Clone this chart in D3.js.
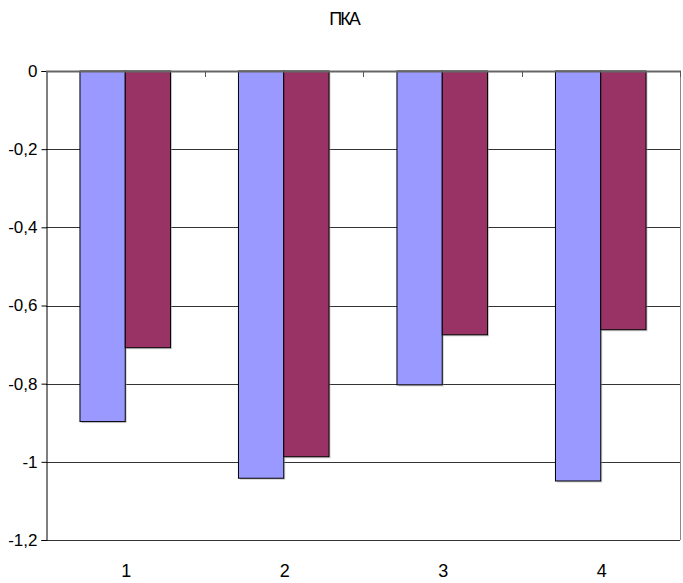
<!DOCTYPE html>
<html>
<head>
<meta charset="utf-8">
<script src="https://cdn.jsdelivr.net/npm/d3@7/dist/d3.min.js"></script>
<style>
  html, body { margin: 0; padding: 0; background: #fff; }
  svg { display: block; font-family: "Liberation Sans", Arial, sans-serif; }
</style>
</head>
<body>
<svg id="chart" width="683" height="583"></svg>
<script>
// Chart data
const title = "ПКА";
const categories = ["1", "2", "3", "4"];
const seriesA = [-0.897, -1.042, -0.803, -1.049];
const seriesB = [-0.708, -0.987, -0.675, -0.662];
const yTicks = [0, -0.2, -0.4, -0.6, -0.8, -1, -1.2];

const colors = ["#9999ff", "#993366"];

const svg = d3.select("#chart");
const plot = { left: 46, right: 680, top: 71, bottom: 540 };

const x = d3.scaleBand().domain(categories).range([plot.left, plot.right]).paddingInner(0).paddingOuter(0);
const y = d3.scaleLinear().domain([-1.2, 0]).range([plot.bottom, plot.top]);

// bar layout inside each category (gap width 150%)
const barW = x.bandwidth() / 3.5;
const gapHalf = x.bandwidth() * 0.75 / 3.5;
const sub = d3.scaleBand().domain([0, 1]).range([gapHalf, gapHalf + 2 * barW]);

const fmt = v => (v === 0 ? "0" : d3.format(".1~f")(v).replace(".", ",").replace("−", "-"));

// title
svg.append("text")
  .attr("x", 344).attr("y", 25)
  .attr("text-anchor", "middle")
  .attr("font-size", 18)
  .attr("letter-spacing", -2)
  .text(title);

// horizontal gridlines
svg.append("g")
  .selectAll("line")
  .data(yTicks.filter(d => d !== 0))
  .join("line")
  .attr("x1", plot.left).attr("x2", plot.right)
  .attr("y1", d => Math.round(y(d)) + 0.5).attr("y2", d => Math.round(y(d)) + 0.5)
  .attr("stroke", "#333").attr("stroke-width", 1);

// right border
svg.append("line")
  .attr("x1", plot.right + 0.5).attr("x2", plot.right + 0.5)
  .attr("y1", plot.top).attr("y2", plot.bottom)
  .attr("stroke", "#888");

// y axis
const yAxis = d3.axisLeft(y).tickValues(yTicks).tickSize(5).tickPadding(4).tickFormat(fmt);
const gy = svg.append("g")
  .attr("transform", `translate(${plot.left + 0.5},0)`)
  .call(yAxis);
gy.select(".domain").attr("stroke", "#000");
gy.selectAll(".tick line").attr("stroke", "#000");
gy.selectAll(".tick text")
  .attr("font-size", 17)
  .attr("fill", "#000")
  .attr("font-family", "Liberation Sans, Arial, sans-serif");

// bars, with a faint drop shadow
const groups = svg.append("g")
  .selectAll("g")
  .data(categories)
  .join("g")
  .attr("transform", d => `translate(${x(d)},0)`);

[seriesA, seriesB].forEach((series, si) => {
  groups.append("rect")
    .attr("x", (d, i) => sub(si) + 1.5)
    .attr("y", y(0) + 1.5)
    .attr("width", barW)
    .attr("height", (d, i) => y(series[i]) - y(0))
    .attr("fill", "#a0a0a0")
    .attr("opacity", 0.5);
});
[seriesA, seriesB].forEach((series, si) => {
  groups.append("rect")
    .attr("x", (d, i) => sub(si))
    .attr("y", y(0))
    .attr("width", barW)
    .attr("height", (d, i) => y(series[i]) - y(0))
    .attr("fill", colors[si])
    .attr("stroke", "#000")
    .attr("stroke-width", 1);
});

// category axis along zero line
const gx = svg.append("g")
  .attr("transform", `translate(0,${y(0)})`);
gx.append("line")
  .attr("x1", plot.left).attr("x2", plot.right + 1)
  .attr("y1", 0.5).attr("y2", 0.5)
  .attr("stroke", "#666").attr("stroke-width", 2);
// category boundary ticks
gx.selectAll("line.tick")
  .data(categories.slice(1).map(c => x(c)).concat([plot.right]))
  .join("line")
  .attr("class", "tick")
  .attr("x1", d => Math.round(d) + 0.5).attr("x2", d => Math.round(d) + 0.5)
  .attr("y1", 0).attr("y2", 6)
  .attr("stroke", "#555");

// category labels at the bottom
svg.append("g")
  .selectAll("text")
  .data(categories)
  .join("text")
  .attr("x", d => x(d) + x.bandwidth() / 2 + 1)
  .attr("y", 577)
  .attr("text-anchor", "middle")
  .attr("font-size", 18)
  .text(d => d);
</script>
</body>
</html>
